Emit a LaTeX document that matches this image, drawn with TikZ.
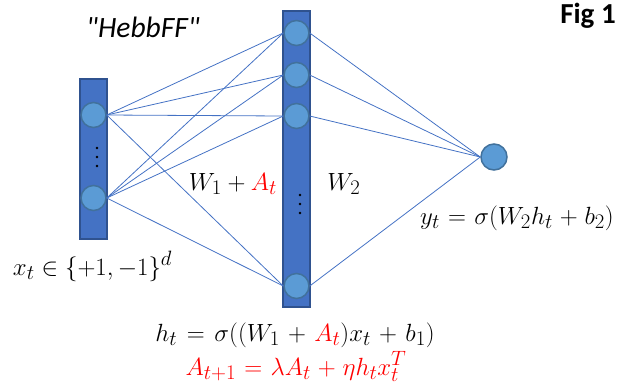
\documentclass[tikz,border=0pt]{standalone}
\usepackage{fontspec}
\setmainfont{Carlito}
\newfontfamily\titlefont[Ligatures=TeXOff]{Carlito}
\definecolor{barblue}{HTML}{4472C4}
\definecolor{baredge}{HTML}{2F528F}
\definecolor{nodeblue}{HTML}{5B9BD5}
\definecolor{nodeedge}{HTML}{41719C}
\definecolor{linkblue}{HTML}{4472C4}
\definecolor{hebbred}{HTML}{FF0000}
\begin{document}
\begin{tikzpicture}[x=1pt,y=-1pt,
  layerbar/.style={draw=baredge, fill=barblue, line width=1.5pt, inner sep=0pt, minimum width=27pt},
  unit/.style={circle, draw=nodeedge, fill=nodeblue, line width=1.5pt, inner sep=0pt, minimum size=25pt},
  link/.style={draw=linkblue, line width=0.8pt},
  mathlbl/.style={anchor=base, inner sep=0pt, font=\fontsize{28}{32}\selectfont},
  vdot/.style={fill=black}]
\useasboundingbox (0,0) rectangle (623,389);
% bars
\node[layerbar, minimum height=160pt] (Lbar) at (93.5,159) {};
\node[layerbar, minimum height=296pt] (Mbar) at (296.5,159) {};
% units
\node[unit] (x1) at (93.5,115) {};
\node[unit] (x2) at (93.5,198) {};
\node[unit] (h1) at (296.5,33) {};
\node[unit] (h2) at (296.5,75) {};
\node[unit] (h3) at (296.5,116) {};
\node[unit] (h4) at (296.5,286) {};
\node[unit, minimum size=26pt] (y) at (494,157) {};
% dots
\foreach \yy in {148,157,166} \fill[vdot] (97,\yy) circle (1.4);
\foreach \yy in {195,204,213} \fill[vdot] (300,\yy) circle (1.4);
% links
\foreach \a in {x1,x2}
  \foreach \b in {h1,h2,h3,h4}
    \draw[link] (\a.east) -- (\b.west);
\foreach \b in {h1,h2,h3,h4}
  \draw[link] (\b.east) -- (y.west);
% texts
\node[font=\fontsize{29.5}{33}\titlefont\itshape] (title) at (143,27) {"HebbFF"};
\node[font=\fontsize{29}{33}\selectfont\bfseries] (fig) at (588,16) {Fig 1};
\node[mathlbl] (w1) at (233,190) {$W_1+{\color{hebbred}A_t}$};
\node[mathlbl] (w2) at (344,190) {$W_2$};
\node[mathlbl] (xt) at (92.5,275) {$x_t\in\{+1,-1\}^d$};
\node[mathlbl] (yt) at (517,224) {$\medmuskip=5mu\thickmuskip=6mu y_t=\sigma(W_2h_t+b_2)$};
\node[mathlbl] (ht) at (295,341) {$\medmuskip=6mu\thickmuskip=7mu h_t=\sigma\bigl((W_1+{\color{hebbred}A_t})x_t+b_1\bigr)$};
\node[mathlbl, text=hebbred] (at) at (296,375) {$\medmuskip=5mu\thickmuskip=6mu A_{t+1}=\lambda A_t+\eta h_t x_t^T$};
\end{tikzpicture}
\end{document}
